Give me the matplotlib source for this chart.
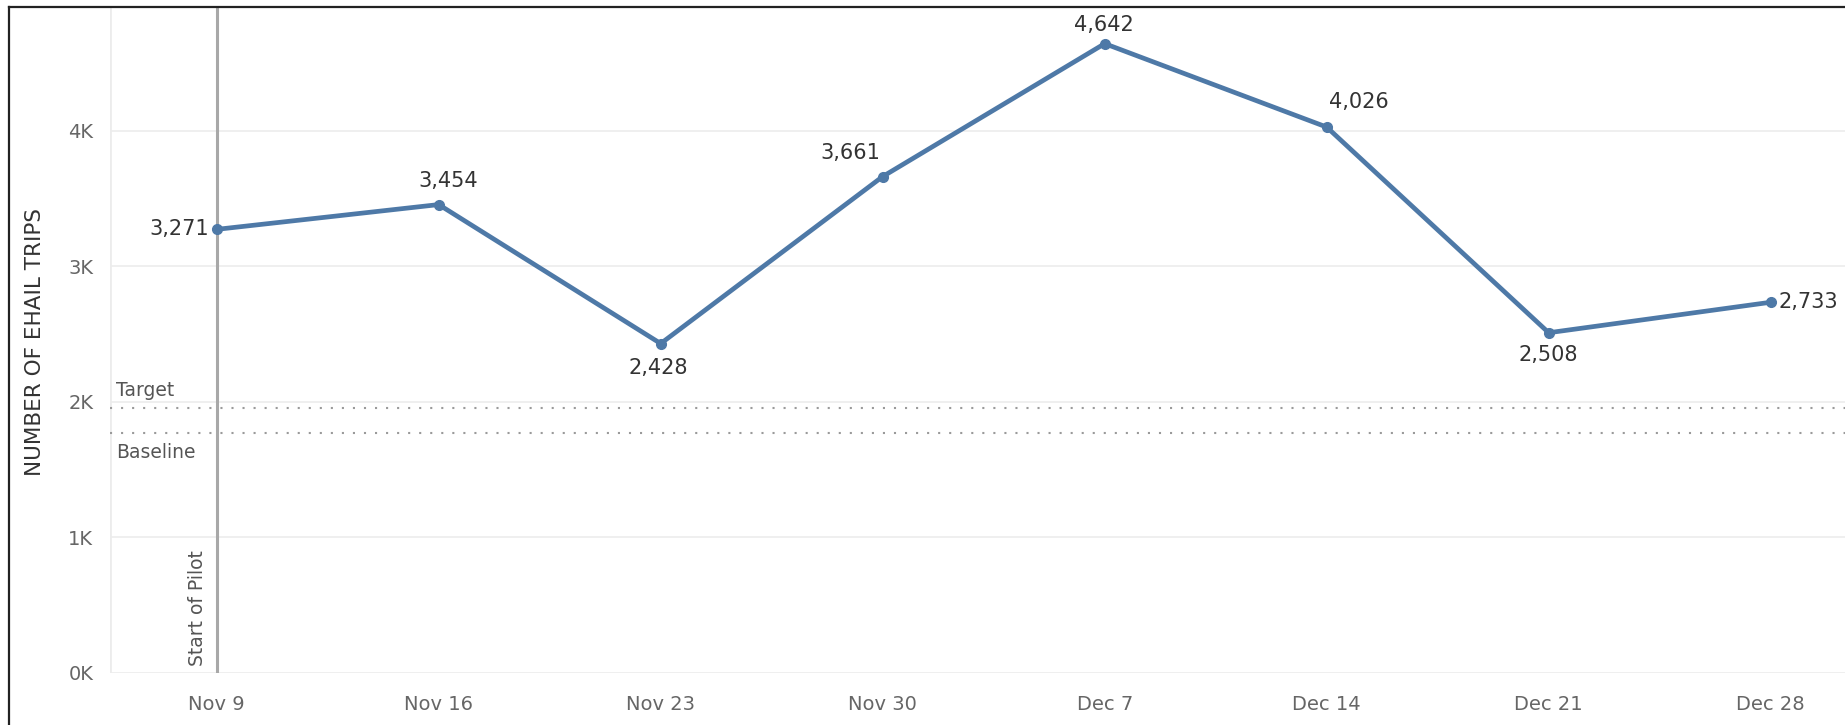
import matplotlib.pyplot as plt
import numpy as np
from matplotlib.lines import Line2D
from matplotlib import font_manager

# ---------------------------- data ----------------------------
weeks = ["Nov 9", "Nov 16", "Nov 23", "Nov 30", "Dec 7", "Dec 14", "Dec 21", "Dec 28"]
trips = [3271, 3454, 2428, 3661, 4642, 4026, 2508, 2733]
target = 1950
baseline = 1770
yticks = [0, 1000, 2000, 3000, 4000]
ytick_labels = ["0K", "1K", "2K", "3K", "4K"]

# label offsets in pixels (dx, dy) and alignment
label_pos = [(-8, 0, "right", "center"), (9, 24, "center", "center"),
             (-2, -24, "center", "center"), (-32, 24, "center", "center"),
             (-1, 19, "center", "center"), (32, 25, "center", "center"),
             (0, -22, "center", "center"), (8, 0, "left", "center")]

# narrow font for the axis title if we have one
names = {f.name for f in font_manager.fontManager.ttflist}
narrow = "DejaVu Sans"
for cand in ["Liberation Sans Narrow", "DejaVu Sans Condensed"]:
    if cand in names:
        narrow = cand
        break

# ---------------------------- plot ----------------------------
W, H = 1845, 725
fig = plt.figure(figsize=(W / 100, H / 100), dpi=100)
ax = fig.add_axes([110 / W, 1 - 672.5 / H, (W - 110) / W, (672.5 - 8) / H])

x = np.arange(len(weeks))
ax.set_xlim(-(216.7 - 110) / 222, (W - 216.7) / 222)
ax.set_ylim(0, 4905)

for yv in yticks:
    ax.axhline(yv, color="#ececec", lw=1.2, zorder=0)
ax.axvline(ax.get_xlim()[0], color="#ececec", lw=2, zorder=0)

blue = "#4e79a7"
ax.plot(x, trips, "-", color=blue, lw=3.4, zorder=3)
ax.plot(x, trips, "o", color=blue, ms=7, zorder=4)

for i, v in enumerate(trips):
    dx, dy, ha, va = label_pos[i]
    ax.annotate(f"{v:,}", (x[i], v), xytext=(dx, dy), textcoords="offset pixels",
                ha=ha, va=va, fontsize=15, color="#333333", zorder=5)

# reference lines
ax.axhline(target, color="#9a9a9a", lw=1.5, ls=(0, (1, 4.3)), zorder=2)
ax.axhline(baseline, color="#9a9a9a", lw=1.5, ls=(0, (1, 4.3)), zorder=2)
ax.annotate("Target", (ax.get_xlim()[0], target), xytext=(6, 8), textcoords="offset pixels",
            ha="left", va="bottom", fontsize=13.5, color="#555555")
ax.annotate("Baseline", (ax.get_xlim()[0], baseline), xytext=(6, -10), textcoords="offset pixels",
            ha="left", va="top", fontsize=13.5, color="#555555")

# start of pilot
ax.axvline(0, color="#a8a8a8", lw=2.2, zorder=2)
ax.annotate("Start of Pilot", (0, 0), xytext=(-10, 7), textcoords="offset pixels",
            ha="right", va="bottom", rotation=90, fontsize=13.5, color="#555555")

ax.set_xticks(x)
ax.set_xticklabels(weeks)
ax.set_yticks(yticks)
ax.set_yticklabels(ytick_labels)
ax.tick_params(axis="both", length=0, labelsize=14, labelcolor="#666666")
ax.tick_params(axis="x", pad=16)
ax.tick_params(axis="y", pad=12)
for s in ax.spines.values():
    s.set_visible(False)

ytitle_size = 18 if narrow != "DejaVu Sans" else 15.5
fig.text(35 / W, 1 - 342 / H, "NUMBER OF EHAIL TRIPS", rotation=90, ha="center", va="center",
         fontsize=ytitle_size, color="#333333", family=narrow)

# screenshot frame (top and left)
fig.add_artist(Line2D([9 / W, 1], [1 - 7 / H, 1 - 7 / H], color="#222222", lw=1.6))
fig.add_artist(Line2D([9 / W, 9 / W], [0, 1 - 7 / H], color="#222222", lw=1.6))

fig.savefig("out.png", dpi=100)
